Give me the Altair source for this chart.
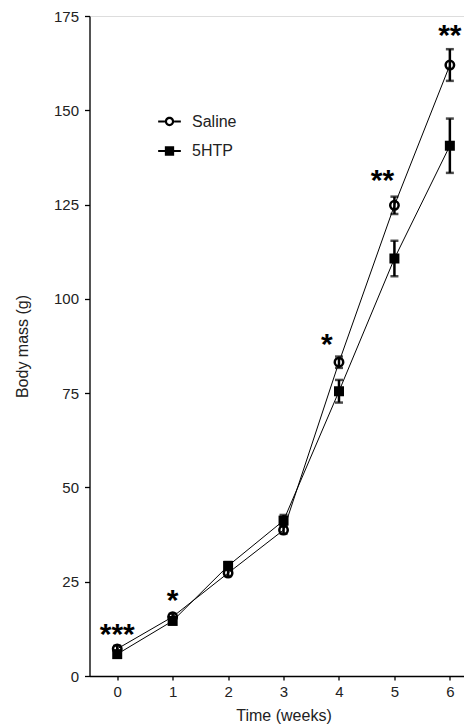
import altair as alt
import pandas as pd

weeks = [0, 1, 2, 3, 4, 5, 6]
groups = ["Saline", "5HTP"]
saline_mean = [7.2, 15.7, 27.3, 38.7, 83.2, 124.8, 162.0]
saline_err = [0.8, 0.8, 0.8, 1.0, 1.5, 2.3, 4.2]
htp_mean = [5.8, 14.6, 29.2, 41.2, 75.5, 110.7, 140.6]
htp_err = [0.8, 0.8, 1.0, 1.5, 3.0, 4.7, 7.2]

star_x = [0, 1, 3.78, 4.785, 6.0]
star_y = [13.1, 22.0, 89.8, 133.3, 171.7]
star_text = ["***", "*", "*", "**", "**"]

y_ticks = [0, 25, 50, 75, 100, 125, 150, 175]

rows = []
for g, means, errs in [("Saline", saline_mean, saline_err), ("5HTP", htp_mean, htp_err)]:
    for w, m, e in zip(weeks, means, errs):
        rows.append({"week": w, "group": g, "mean": m, "lo": m - e, "hi": m + e})
df = pd.DataFrame(rows)
stars = pd.DataFrame({"x": star_x, "y": star_y, "t": star_text})

FONT = "Liberation Sans"

xscale = alt.Scale(domain=[-0.5, 6.255], nice=False, zero=False)
yscale = alt.Scale(domain=[0, 175], nice=False)

x_enc = alt.X("week:Q", scale=xscale, axis=alt.Axis(
    values=weeks, format="d", title="Time (weeks)", grid=False, tickSize=4,
    labelFontSize=15, titleFontSize=16, titleFontWeight="normal",
    titleX=194, titleY=44, titleBaseline="alphabetic", labelPadding=4,
    domainColor="black", tickColor="black", labelColor="#222", titleColor="#222",
    domainWidth=1.3, tickWidth=1.3, labelFont=FONT, titleFont=FONT))
y_enc = alt.Y("mean:Q", scale=yscale, axis=alt.Axis(
    values=y_ticks, title="Body mass (g)", grid=False, tickSize=5,
    labelFontSize=15, titleFontSize=16, titleFontWeight="normal",
    titleX=-67.5, titleBaseline="middle", labelPadding=6,
    domainColor="black", tickColor="black", labelColor="#222", titleColor="#222",
    domainWidth=1.3, tickWidth=1.3, labelFont=FONT, titleFont=FONT))

base = alt.Chart(df)

lines = base.mark_line(color="black", strokeWidth=1).encode(
    x=x_enc, y=y_enc, detail="group:N")

err_rule = base.mark_rule(color="black", strokeWidth=2.5).encode(
    x="week:Q", y="lo:Q", y2="hi:Q")
cap_lo = base.mark_tick(color="black", thickness=2.5, size=8, orient="horizontal").encode(
    x="week:Q", y="lo:Q")
cap_hi = base.mark_tick(color="black", thickness=2.5, size=8, orient="horizontal").encode(
    x="week:Q", y="hi:Q")

sal_pts = base.transform_filter(alt.datum.group == "Saline").mark_point(
    shape="circle", size=71, strokeWidth=2.5, color="black", filled=False, opacity=1).encode(
    x="week:Q", y="mean:Q")
htp_pts = base.transform_filter(alt.datum.group == "5HTP").mark_square(
    size=100, color="black", opacity=1).encode(x="week:Q", y="mean:Q")

# legend glyphs: line stub + marker, as filled paths (unit box -1..1)
sal_path = ("M-1,-0.088L-0.41,-0.088L-0.41,0.088L-1,0.088Z"
            "M0.41,-0.088L1,-0.088L1,0.088L0.41,0.088Z"
            "M-0.41,0A0.41,0.41,0,1,1,0.41,0A0.41,0.41,0,1,1,-0.41,0Z"
            "M-0.216,0A0.216,0.216,0,1,0,0.216,0A0.216,0.216,0,1,0,-0.216,0Z")
htp_path = ("M-1,-0.088L1,-0.088L1,0.088L-1,0.088Z"
            "M-0.41,-0.41L0.41,-0.41L0.41,0.41L-0.41,0.41Z")

leg = alt.Legend(title=None, orient="none", legendX=68.5, legendY=94,
                 symbolSize=515, symbolStrokeWidth=0, symbolFillColor="black",
                 symbolOpacity=1, labelFontSize=16, labelFont=FONT, labelColor="#222",
                 labelOffset=11, rowPadding=9.5)
legend_layer = base.mark_point(filled=True, opacity=0, color="black").encode(
    x="week:Q", y="mean:Q",
    shape=alt.Shape("group:N", scale=alt.Scale(domain=groups, range=[sal_path, htp_path]), legend=leg))

star_layer = alt.Chart(stars).mark_text(
    font=FONT, fontSize=30, fontWeight="bold", color="black", align="center",
    baseline="alphabetic", dy=17).encode(x="x:Q", y="y:Q", text="t:N")

chart = alt.layer(lines, err_rule, cap_lo, cap_hi, sal_pts, htp_pts, legend_layer, star_layer).properties(
    width=374.5, height=660,
    autosize=alt.AutoSizeParams(type="none"),
    padding={"left": 81.5, "top": 8, "right": 0, "bottom": 48},
).configure_view(stroke=None).configure(font=FONT)

chart.save("out.html", embed_options={"renderer": "svg", "actions": False})
